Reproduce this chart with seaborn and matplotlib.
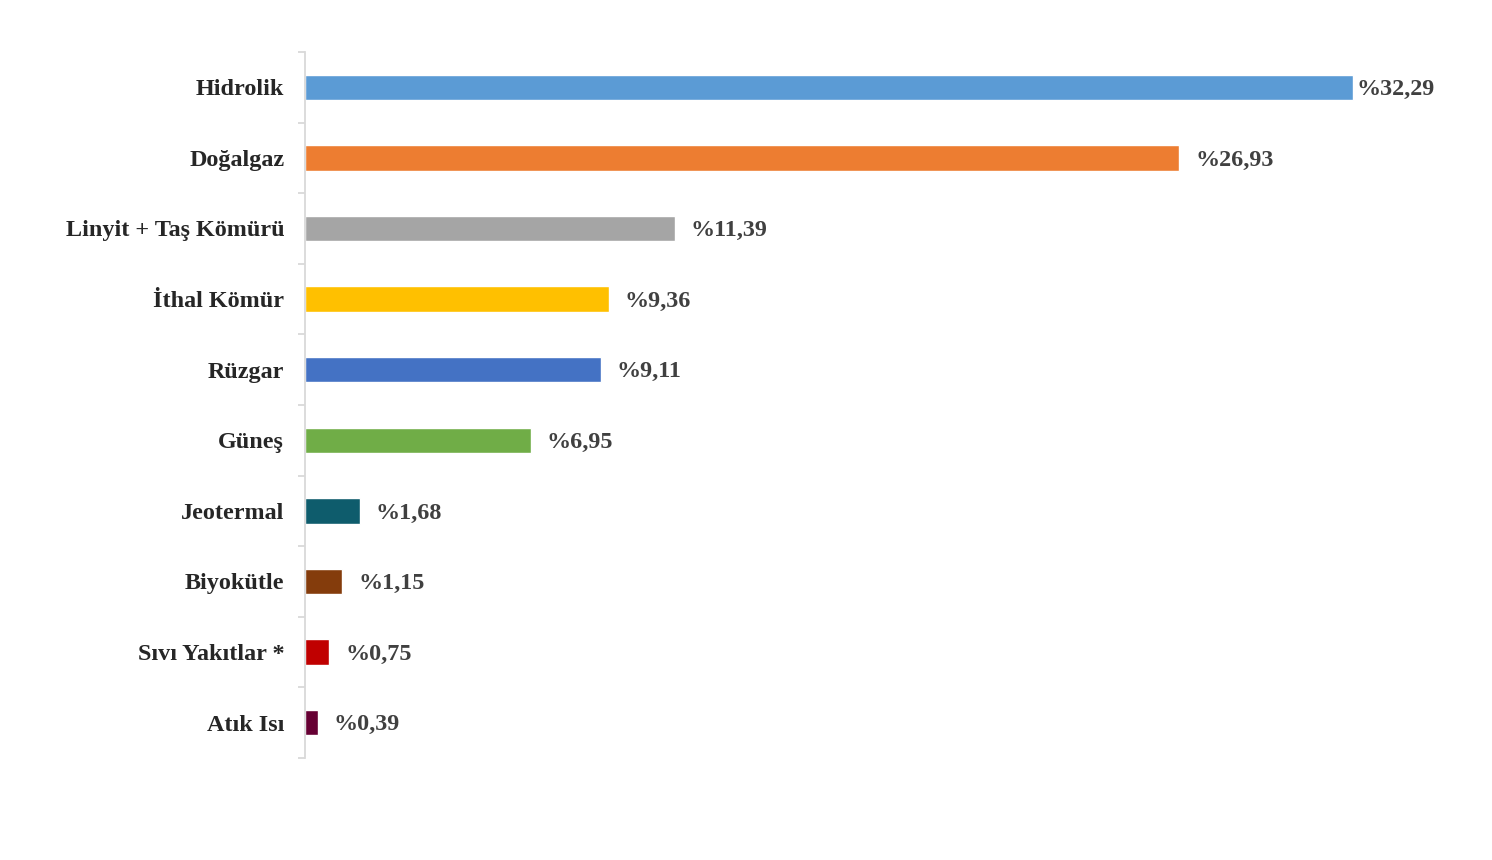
import matplotlib
matplotlib.use("Agg")
import matplotlib.pyplot as plt
import numpy as np
import pandas as pd
import seaborn as sb

kaynaklar = ["Hidrolik", "Doğalgaz", "Linyit + Taş Kömürü", "İthal Kömür", "Rüzgar",
             "Güneş", "Jeotermal", "Biyokütle", "Sıvı Yakıtlar *", "Atık Isı"]
oranlar = [32.29, 26.93, 11.39, 9.36, 9.11, 6.95, 1.68, 1.15, 0.75, 0.39]
etiketler = ["%32,29", "%26,93", "%11,39", "%9,36", "%9,11",
             "%6,95", "%1,68", "%1,15", "%0,75", "%0,39"]
renkler = ["#5B9BD5", "#ED7D31", "#A5A5A5", "#FFC000", "#4472C4",
           "#70AD47", "#0E5C6C", "#843C0C", "#C00000", "#660033"]

df = pd.DataFrame({"kaynak": kaynaklar, "oran": oranlar})

sb.set_style("white")
plt.rcParams['font.family'] = ['Liberation Serif', 'DejaVu Serif']

fig = plt.figure(figsize=(14.92, 8.6), dpi=100)
ax = fig.add_axes([305/1492, 1-758/860, 36*32.45/1492, (758-52)/860])

sb.barplot(data=df, y="kaynak", x="oran", hue="kaynak", palette=renkler,
           legend=False, orient="h", width=0.36, saturation=1, ax=ax)

ax.set_xlim(0, 36)
ax.set_ylim(9.5, -0.5)
ax.set_xlabel("")
ax.set_ylabel("")
ax.set_xticks([])

for s in ["top", "right", "bottom"]:
    ax.spines[s].set_visible(False)
ax.spines["left"].set_color("#d9d9d9")
ax.spines["left"].set_linewidth(1.3)

ax.tick_params(axis="y", which="major", length=0, pad=15)
ax.set_yticks(np.arange(-0.5, 10, 1), minor=True)
ax.tick_params(axis="y", which="minor", left=True, length=5, width=1.3,
               color="#d9d9d9", direction="out")
for lbl in ax.get_yticklabels():
    lbl.set_fontsize(17.4)
    lbl.set_fontweight("bold")
    lbl.set_color("#262626")

for i, (v, t) in enumerate(zip(oranlar, etiketler)):
    off = 0.1 if i == 0 else 0.5
    ax.text(v + off, i + 0.03, t, va="center", ha="left", fontsize=17.4,
            fontweight="bold", color="#404040")

plt.savefig("out.png", dpi=100)
